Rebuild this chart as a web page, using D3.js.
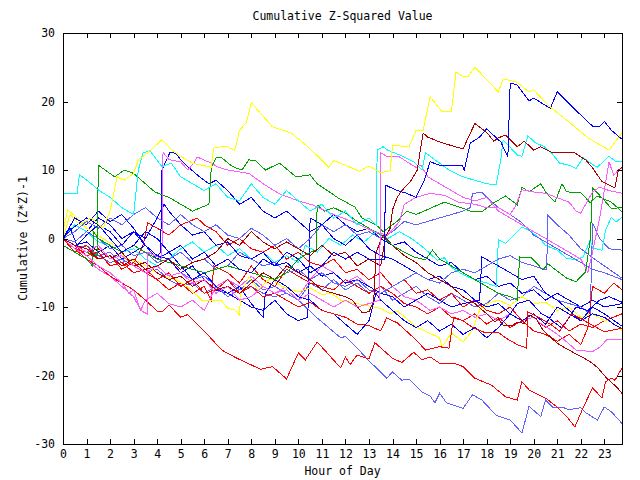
<!DOCTYPE html>
<html><head><meta charset="utf-8">
<script src="https://cdn.jsdelivr.net/npm/d3@7"></script>
<style>
body{margin:0;background:#fff}
svg{display:block}
text{font-family:"DejaVu Sans Mono",monospace;font-size:11.5px;fill:#000}
</style>
</head><body>
<svg id="c" width="640" height="480"></svg>
<script>
// ---- data: [hour, cumulative (z*z)-1] ----
const xTicks = d3.range(0, 24);
const yTicks = [-30, -20, -10, 0, 10, 20, 30];
const titleText = "Cumulative Z-Squared Value";
const xLabel = "Hour of Day";
const yLabel = "Cumulative (Z*Z)-1";

const yellow1 = [[0,0],[0.3,3.5],[0.7,2],[1.2,3],[1.7,1.5],[2,4],[2.3,9],[2.6,8.5],[3,9.5],[3.2,11.5],[3.6,12.5],[4.2,14.4],[4.6,13],[5,12],[5.5,11],[6.3,10.4],[6.4,13.2],[6.9,13.5],[7.3,12.9],[7.5,15.8],[7.8,17],[8,19.8],[8.9,16.3],[9.7,15.4],[10.4,13.4],[11.3,10.4],[11.5,11.4],[12.2,10.4],[12.6,9.8],[13,10.6],[13.5,9.6],[13.9,9.9],[14,13.6],[14.7,13.4],[15,15.8],[15.3,15.8],[15.6,20.7],[16.1,18.5],[16.5,18.5],[16.7,24.3],[17,23.6],[17.2,23.6],[17.5,25],[18.5,21.4],[18.7,23.3],[19.3,22.8],[19.8,21.4],[20,21.7],[20.6,19.5],[21.5,17],[22.3,14.7],[23.2,12.9],[23.75,15.4]];
const yellow2 = [[0,1],[0.2,4.2],[0.6,3],[1,1.5],[1.7,0],[2.3,-1.2],[2.7,-3],[3.3,-3.5],[3.8,-4.6],[4.3,-5.6],[4.8,-6],[5.3,-7.1],[5.9,-9],[6.7,-9],[7,-10.2],[7.3,-10.4],[7.5,-11.2],[7.55,-8],[7.9,-5.6],[8.3,-7.5],[8.8,-5.8],[9.3,-7],[10,-7.8],[10.5,-7.2],[11,-8.2],[11.4,-8],[11.8,-9],[12.5,-9.5],[13.5,-10.2],[13.9,-11],[14.2,-10.6],[14.6,-11.7],[15,-12.9],[15.5,-13.7],[16,-14.5],[16.1,-15.8],[16.5,-13.8],[17,-15.1],[17.4,-13.4],[17.7,-10.4],[18.1,-9.4],[18.5,-9],[19,-9.8],[19.5,-8.5],[20,-9.5],[20.5,-9.3],[21,-10.5],[21.5,-10],[22,-11.5],[22.5,-11],[22.9,-11.8],[23.3,-12.2],[23.75,-13.4]];
const blue1 = [[0,0],[0.4,1.5],[1,3],[1.5,2],[2,0],[2.5,-2],[3,-1],[3.5,1],[4,0],[4.5,-2],[5,-1],[5.5,-3],[6,-2],[6.5,-4],[7,-3],[7.5,-4.5],[8,-5],[8.5,-3],[9,-4],[9.5,-2],[10,-3],[10.5,-5],[11,-4],[11.5,-2],[12,-3],[12.5,-2],[13,-3],[13.65,-3.1],[13.7,7.8],[14.2,7],[14.6,6.6],[15,6],[15.35,8.5],[15.6,11.2],[16,10.7],[16.95,10.7],[17.05,10],[17.3,13.9],[17.7,14.8],[18,16],[18.6,14.1],[18.9,11.9],[19,22.7],[19.3,22.4],[19.8,20.1],[20,20.5],[20.7,19],[21,21.4],[21.7,19],[22.5,16.4],[22.8,16.4],[23,17.1],[23.3,15.8],[23.75,14.5]];
const blue2 = [[0,0],[0.3,1.5],[0.6,-1],[1,0.5],[1.5,2],[2,1],[2.5,-1],[3,1],[3.5,0],[4,3],[4.3,5],[4.5,4],[5,2],[5.5,0.5],[6,1],[6.5,-1],[7,-0.5],[7.5,-2.5],[8,-3],[8.5,-2],[9,-4],[9.5,-3.5],[10,-5],[10.5,-4],[11,-5.5],[11.5,-5],[12,-6.5],[12.5,-6],[13,-7],[13.5,-8],[14,-8.5],[14.5,-10],[15,-9],[15.5,-8],[16,-9],[16.5,-10],[17,-9.5],[17.7,-9],[17.8,-2.7],[18.5,-4],[19,-5],[19.5,-6],[20,-5.5],[20.5,-8],[21,-9],[21.5,-10.5],[22,-12],[22.5,-11],[23,-11.5],[23.4,-12.5],[23.75,-13.2]];
const blue3 = [[0,0],[0.5,3],[1,2],[1.5,4],[2,2.5],[2.5,3.5],[3,1.5],[3.5,-1],[4,-3],[4.5,-2],[5,-4],[5.5,-6],[6,-5],[6.5,-7],[7,-8],[7.5,-7],[8,-9.5],[8.5,-11.5],[8.6,-8],[9,-6],[9.5,-7],[10,-8.5],[10.5,-9],[11,-10.5],[11.5,-11],[12,-12.5],[12.5,-14],[13,-12],[13.3,-8],[13.5,-9],[14,-10.5],[14.5,-12],[15,-13],[15.5,-12],[16,-13.5],[16.5,-12.5],[17,-14],[17.5,-13],[18,-14.5],[18.5,-13],[19,-11],[19.3,-9.5],[19.8,-9],[20.3,-10.9],[20.6,-11.5],[21.2,-13.1],[21.8,-10],[22.3,-10.5],[22.8,-9],[23.2,-8.5],[23.75,-9.3]];
const blue4 = [[0,0],[0.5,-1],[1,-0.5],[1.5,-2],[2,-1],[2.5,-3],[3,-2],[3.5,-1],[4,-2.5],[4.15,-2],[4.2,10],[4.55,12.6],[4.8,12.4],[5,11.5],[5.3,10.5],[5.8,9],[6.2,8],[6.5,8.5],[7,7],[7.5,5],[8,6],[8.5,4],[9,3],[9.5,4],[10,2.5],[10.5,1],[11,2],[11.5,0],[12,-1],[12.5,0.5],[13,-1.5],[13.5,-2.5],[14,-3],[14.5,-4],[15,-5],[15.5,-6],[16,-5.5],[16.5,-7],[17,-7.5],[17.5,-9],[18,-10],[18.5,-9.5],[19,-11],[19.5,-12],[20,-11],[20.5,-12.5],[21,-10],[21.5,-11],[22,-12],[22.5,-10],[23,-11],[23.75,-12.8]];
const blue5 = [[0,0],[0.5,2],[1,1],[1.5,3],[2,2],[2.5,0],[3,1],[3.5,-1],[4,-2.5],[4.5,-3],[5,-5],[5.5,-4],[6,-6],[6.5,-7.5],[7,-8],[7.5,-9],[8,-10],[8.5,-10.5],[9,-9],[9.5,-11],[10,-12],[10.4,-11.5],[10.5,3],[11,2],[11.5,3.5],[12,2],[12.5,1],[13,1.5],[13.5,0],[14,-1],[14.5,-0.5],[15,-2],[15.5,-3],[16,-4],[16.5,-3.5],[17,-5],[17.5,-6],[18,-5.5],[18.5,-7],[19,-6.5],[19.5,-8],[20,-7.5],[20.5,-9],[21,-8],[21.5,-9],[22,-10],[22.5,-9],[23,-10],[23.75,-9.5]];
const slate1 = [[0,0],[0.5,-0.5],[1,1],[1.5,0],[2,-1.5],[2.5,-1],[3,-2.5],[3.5,-2],[4,-3.5],[4.5,-3],[5,-2],[5.5,-3.5],[6,-3],[6.5,-4.5],[7,-4],[7.5,-2],[8,-3],[8.5,-4],[9,-3.5],[9.5,-5],[10,-4.5],[10.5,-6],[11,-5],[11.5,-6.5],[12,-7],[12.5,-6],[13,-7.5],[13.5,-8],[14,-7],[14.5,-6],[15,-5],[15.5,-6],[16,-6.5],[16.5,-5],[17,-4.5],[17.5,-5],[18,-4],[18.5,-3],[19,-2.5],[19.5,-3.5],[20,-4],[20.55,-4.6],[20.6,3.4],[21,2],[21.5,0.5],[22,-1.5],[22.5,-2.8],[23,-4],[23.75,-5.8]];
const slate2 = [[0,0],[0.5,1],[1,2.5],[1.5,1.5],[2,3],[2.5,2],[3,3.5],[3.5,4.5],[4,3],[4.5,2],[5,3.5],[5.5,2],[6,1],[6.5,2],[7,0.5],[7.5,0],[8,1.5],[8.5,0.5],[9,-1],[9.5,0],[10,-1.5],[10.5,0],[11,2],[11.5,1],[12,2],[12.5,0.5],[13,1],[13.5,0],[14,1],[14.5,2.5],[15,2],[15.5,2.5],[16,3],[16.5,3.5],[17,4],[17.3,4.5],[17.4,6.6],[17.8,6.7],[18.1,5.7],[18.5,4.5],[19,3.5],[19.5,2.3],[20,0.5],[20.5,-0.5],[21,-1.5],[21.5,-2.5],[22,-3.5],[22.5,-4.5],[23,-5],[23.75,-6]];
const slate3 = [[0,0],[0.5,-1.5],[1,-1],[1.5,-2.5],[2,-3.5],[2.5,-3],[3,-4],[3.5,-5],[4,-4.5],[4.5,-6],[5,-7],[5.5,-6.5],[6,-8],[6.5,-7],[7,-8.5],[7.5,-7.5],[8,-6],[8.5,-7.5],[9,-7],[9.5,-8],[10,-9],[10.5,-6.5],[11,-7.5],[11.5,-6],[12,-7.5],[12.5,-6.5],[13,-8],[13.5,-7],[14,-9],[14.5,-8],[15,-7],[15.5,-8.5],[16,-9.5],[16.5,-8],[17,-9],[17.5,-10],[18,-9.5],[18.5,-8],[19,-9],[19.5,-8.5],[20,-7],[20.5,-8],[21,-9],[21.5,-9.5],[22,-10],[22.4,-11],[22.5,2.3],[22.8,0],[23.2,-1.5],[23.75,-1.7]];
const slate4 = [[0,0],[0.5,-1],[1,-1.5],[1.5,-2.5],[2,-2],[2.5,-3.5],[3,-3],[3.5,-4.5],[4,-4],[4.5,-5.5],[5,-5],[5.5,-6],[6,-5.5],[6.5,-7],[7,-6],[7.5,-7.5],[8,-7],[8.5,-8],[9,-8.5],[9.5,-8],[10,-9],[10.8,-11.6],[11.8,-14.5],[12,-14.3],[12.5,-16],[12.9,-17.5],[13.75,-20.4],[14,-19.5],[14.4,-20.7],[14.7,-20.5],[15.25,-22.4],[15.6,-23],[15.8,-24],[16,-22.6],[16.3,-24],[17,-24.8],[17.4,-22.8],[17.8,-23.6],[18.4,-25.8],[19,-26.5],[19.5,-28.4],[19.8,-24.5],[20.3,-26],[20.5,-23.6],[20.8,-24.6],[21.2,-24.6],[21.5,-25],[22,-24.7],[22.2,-25.4],[22.7,-26.5],[23,-24.6],[23.3,-25.3],[23.75,-27]];
const red1 = [[0,0],[0.5,-1.5],[1,-3],[1.5,-4],[2,-5.5],[2.5,-6.5],[3,-7.5],[3.6,-9.3],[4,-10.6],[4.25,-10.6],[4.5,-9.7],[5,-11.5],[5.3,-11.1],[6,-13.5],[6.75,-16.3],[7.4,-17.5],[8.15,-18.7],[8.4,-19.1],[8.9,-18.7],[9.5,-20.5],[10,-16.7],[10.3,-17.7],[10.8,-15.1],[11.8,-18.9],[12,-17.3],[12.2,-18.4],[12.5,-17],[13,-17.6],[13.25,-15.2],[14,-17.5],[14.4,-18.1],[14.9,-16.6],[15.25,-17.7],[15.6,-17.3],[16,-18.2],[16.6,-18.2],[17,-18.7],[17.5,-20.4],[18.2,-21.4],[18.8,-23.1],[19.3,-23.6],[19.5,-20.9],[19.8,-22.1],[20.5,-23.3],[21,-24.6],[21.4,-26],[21.75,-27.5],[22.1,-24.7],[22.5,-21.8],[22.9,-23.3],[23.05,-20.9],[23.3,-20.4],[23.45,-20.7],[23.75,-18.9]];
const red2 = [[0,0],[0.5,-2],[1,-1],[1.5,-3],[2,-2.5],[2.5,-4.5],[3,-3.5],[3.5,-5],[4,-6],[4.5,-5],[5,-7],[5.5,-6],[6,-8],[6.5,-7.5],[7,-6],[7.5,-8],[8,-7],[8.5,-8.5],[9,-8],[9.5,-9],[10,-10],[10.5,-9.3],[11,-10.5],[11.5,-11],[12,-11.5],[12.5,-12.5],[13,-12.7],[13.5,-13.5],[13.75,-11.6],[14.2,-12.3],[15,-14.8],[15.4,-16.3],[16,-15.8],[16.4,-16],[16.6,-11.5],[17,-12],[17.4,-13],[17.9,-13.7],[18.5,-13.7],[18.8,-14.5],[19.3,-15.5],[19.7,-16],[19.75,-10.7],[20.2,-11.5],[20.7,-12.5],[21.1,-13.5],[21.6,-11],[22,-11.7],[22.4,-12.5],[23,-13.6],[23.75,-13.1]];
const red3 = [[0,0],[0.5,-1],[1,-2.5],[1.5,-2],[2,-4],[2.5,-3.5],[3,-5],[3.5,-4.5],[4,-6],[4.5,-7.5],[5,-6.5],[5.5,-8],[6,-7],[6.3,-9],[6.4,-4],[7,-5],[7.5,-6.5],[8,-4],[8.5,-6],[9,-7],[9.5,-4.5],[10,-5.5],[10.5,-6.5],[11,-7],[11.5,-7.5],[12,-6],[12.5,-7],[13,-8],[13.5,-7],[14,-8],[14.5,-9.5],[15,-10],[15.5,-11],[16,-10],[16.5,-11.5],[17,-12],[17.5,-11],[18,-12.5],[18.5,-11.5],[19,-13],[19.5,-12],[20,-13.5],[20.5,-14],[21,-15],[21.5,-14],[22,-15.5],[22.3,-13],[22.5,-7],[23,-8],[23.4,-6.5],[23.75,-7.5]];
const red4 = [[0,0],[0.5,-1.5],[1,-2],[1.5,-3],[2,-2.5],[2.5,-4],[3,-3.5],[3.4,-1],[3.6,2.3],[4,1.5],[4.5,0.5],[5,2],[5.3,2.4],[5.7,3],[6,2],[6.5,1],[7,-1],[7.5,0],[8,-1.5],[8.5,-2],[9,-1],[9.5,-3],[10,-2],[10.5,-3.5],[11,-4],[11.5,-3],[12,-5],[12.5,-4.5],[13,-6],[13.5,-5],[14,-7],[14.5,-6],[15,-8],[15.5,-7.5],[16,-9],[16.5,-8],[17,-10],[17.5,-9],[18,-10.5],[18.5,-11],[19,-10],[19.5,-12],[20,-11.5],[20.5,-13],[21,-12],[21.5,-13.5],[22,-12.5],[22.5,-13],[23,-12],[23.75,-11]];
const darkred1 = [[0,0],[0.5,-1],[1,-1.5],[1.5,-3],[2,-2.5],[2.5,-4],[3,-3],[3.5,-4.5],[4,-4],[4.5,-3],[5,-4.5],[5.5,-3.5],[6,-3],[6.5,-2],[7,0],[7.5,-1],[8,1],[8.5,-0.5],[9,-1.5],[9.5,-0.5],[10,-1.5],[10.5,-2.5],[11,-1],[11.5,-2.5],[12,-2],[12.5,-4],[13,-3],[13.5,-4],[13.7,0.2],[13.9,1.5],[14,4.2],[14.2,6],[14.4,7],[14.8,8.5],[15.05,10],[15.3,15.4],[15.5,14.8],[16,14.1],[16.65,13.4],[17,13.1],[17.5,16.8],[18,15.5],[18.3,14.2],[18.5,14.7],[18.8,15.1],[19.3,13.4],[19.6,14.2],[20,12.9],[20.3,13.4],[20.8,12.5],[21.7,12.6],[22,11.9],[22.2,11.5],[22.5,10.3],[22.9,8.3],[23.45,7.4],[23.6,10],[23.75,10.4]];
const darkred2 = [[0,0],[0.5,-1],[1,-2],[1.5,-1.5],[2,-3],[2.5,-2],[3,-4],[3.5,-3.5],[4,-5],[4.5,-6],[5,-5.5],[5.5,-7],[6,-6],[6.5,-7.5],[7,-7],[7.5,-8],[8,-6.5],[8.5,-5],[9,-6],[9.5,-4],[10,-5],[10.5,-6],[11,-7.5],[11.5,-8],[12,-8.5],[12.3,-9],[12.7,-10.8],[13,-10.7],[13.2,-9.2],[13.3,-2],[13.6,0.5],[14,-1],[14.5,-2.5],[15,-3.5],[15.5,-5],[16,-6],[16.5,-7],[17,-8.5],[17.5,-9.5],[18,-11],[18.35,-12.2],[18.5,-11.7],[18.7,-12.7],[19.1,-12.7],[19.3,-12.2],[19.6,-12.4],[19.8,-11.2],[20.1,-11.7],[20.4,-13.4],[21,-15.3],[21.5,-16.3],[22.1,-17.4],[22.4,-18],[22.7,-18.8],[23.1,-20.4],[23.5,-21.6],[23.75,-22.6]];
const green1 = [[0,0],[0.5,-1],[1,-2],[1.45,-2.5],[1.5,10.7],[2.2,9],[2.6,10],[3,9.5],[3.9,6.8],[4.5,6],[5,5],[5.5,4],[6.2,5],[6.3,10.3],[6.5,11.8],[6.7,11.9],[7.2,10.5],[7.6,10],[7.9,11.5],[8.2,11.3],[8.6,10],[9.2,11],[9.9,9],[10.5,9.3],[10.8,8],[11.7,5.9],[12.4,4.6],[12.7,3],[13.3,2],[13.6,1],[14.2,2.5],[14.6,4],[15,3.5],[15.6,4.4],[16.2,5.3],[17,4.4],[17.3,4],[17.8,3.9],[18.3,5.2],[18.8,6.2],[19.3,4.9],[19.5,7.5],[19.8,6.8],[20.3,8],[20.5,6.8],[20.9,5.3],[21.2,8],[21.4,6.8],[22,6.7],[22.4,5.2],[22.7,6.2],[23.3,5.3],[23.75,3.9]];
const green2 = [[0,-1],[0.5,-2],[1,-3],[1.25,-4],[1.3,1],[1.5,0],[2,-1],[2.5,-2],[3,-1],[3.5,-2],[4,-3],[5,-4],[6,-5],[7,-4],[8,-5],[9,-6],[9.5,-5],[10,-3],[10.5,-2],[10.75,-1.7],[10.8,4.9],[11.1,4],[11.5,4.5],[12.1,3.5],[12.5,2.5],[13,1.5],[13.5,0.5],[14,-1],[14.5,-2],[14.9,-2.7],[15.4,-3.1],[15.7,-1.7],[16,-3],[16.5,-4],[17,-5],[17.5,-6],[18,-7],[18.5,-8],[19,-8.5],[19.3,-9],[19.4,-2.7],[19.9,-2.8],[20.4,-4.6],[20.6,-3.7],[21.4,-5.8],[21.8,-6.3],[22.2,-4.9],[22.4,-0.2],[22.5,7.4],[22.8,6.3],[23.3,4.4],[23.75,4.5]];
const cyan1 = [[0,6.6],[0.6,6.6],[0.7,9.3],[1.2,8],[1.5,7.1],[2,6],[2.5,4.5],[3,3.5],[3.2,10],[3.4,12.5],[3.7,12.8],[4.2,10.5],[4.6,11],[5,9],[5.5,8],[6,7],[6.5,8],[7,6],[7.5,5.5],[8,8],[8.5,6],[9,5],[9.5,7],[10,5.5],[10.5,4],[11,5],[11.5,3],[12,4],[12.5,2],[13,3],[13.3,2],[13.35,12.9],[13.6,13.4],[13.8,12.9],[14.3,12.2],[14.9,11.2],[15.25,10],[15.4,12.5],[15.8,11.5],[16.4,10],[17,9],[17.5,8.5],[18,8],[18.4,7.8],[18.6,11.5],[18.7,14.4],[19.3,12.2],[19.5,12],[19.75,15],[20.1,13.9],[20.4,13.5],[20.75,12.5],[21.1,11],[21.5,10.7],[21.8,10.2],[22.1,11.8],[22.5,10.8],[22.7,10.4],[23.2,12],[23.5,11.2],[23.75,11.2]];
const cyan2 = [[0,0],[0.5,2],[1,1],[1.5,-0.5],[2,-1],[2.5,-2],[3,-1.5],[3.5,-3],[4,-4],[4.5,-3],[5,-1.5],[5.5,-0.5],[6,-2],[6.5,-1],[7,-2.5],[7.5,-1.5],[8,-3],[8.5,-2],[9,-3.5],[9.5,-2.5],[10,-3.5],[10.3,-1],[10.8,-2],[11.3,0],[11.8,-1],[12.3,0.5],[12.8,-0.5],[13.3,1],[13.8,0],[14.3,1],[14.8,0],[15.2,-1],[15.6,-2.2],[15.9,-3.2],[16.2,-2.8],[16.5,-4.2],[17,-5.3],[17.5,-6],[18,-6.5],[18.4,-7],[18.5,-0.2],[18.8,-0.7],[19.3,1],[19.5,1.7],[19.8,1.2],[20.2,0.2],[20.5,-1],[21,-1.7],[21.4,-2.9],[21.8,-3.1],[22.1,-2.7],[22.4,-0.2],[22.5,-1.4],[22.9,-1.7],[23.05,1.2],[23.3,3.1],[23.5,2.4],[23.75,3.1]];
const magenta1 = [[0,0],[0.5,-1.5],[1,-2.5],[1.5,-4],[2,-5],[2.5,-6.5],[2.8,-8],[3,-7.5],[3.3,-10.5],[3.57,-11],[3.6,-2],[3.9,-2.5],[4.2,-3],[4.25,12.6],[4.5,11.5],[5,11.2],[5.3,10],[5.6,11.2],[5.7,11.9],[6.3,11],[6.6,10.4],[7,10],[7.9,9.5],[8.5,8],[9.2,6.5],[10,5.5],[10.6,4.9],[11.5,3.5],[12.5,2.2],[13.2,1],[13.8,0.5],[14.3,2.5],[14.5,5],[15,6],[15.6,6.6],[16.2,6.3],[16.8,5.3],[17.5,5],[18,4.5],[18.5,4.5],[19,3.5],[19.2,4.6],[19.5,7.1],[20,6.8],[20.5,6.6],[21.5,5.3],[21.8,4],[22,3.7],[22.5,6.8],[22.8,7.5],[23.2,7],[23.75,6.6]];
const magenta2 = [[0,0],[0.5,-1.5],[1,-3],[1.5,-4.5],[2,-5.5],[2.5,-7],[3,-8.5],[3.3,-10.5],[3.5,-9],[4,-8],[4.5,-9.5],[5,-10],[5.5,-9],[6,-10.5],[6.5,-7],[7,-6],[7.5,-7],[8,-5.5],[8.5,-7],[9,-8],[9.5,-7],[10,-8.5],[10.5,-6],[11,-4],[11.5,-5],[12,-6.5],[12.5,-5.5],[13,-7],[13.5,-8],[14,-7],[14.5,-8.5],[15,-9],[15.6,-10.5],[16,-10],[16.5,-11],[17,-10.5],[17.5,-11.5],[18,-11],[18.5,-12],[19,-11],[19.5,-12],[20,-11.5],[20.3,-12.4],[20.8,-13.5],[21.2,-14.5],[21.8,-16.3],[22.5,-16.5],[22.8,-15.9],[23.1,-14.8],[23.75,-14.7]];
const magenta3 = [[0,0],[0.5,-1],[1,-2],[1.5,-1],[2,-3],[2.5,-2.5],[3,-4],[3.5,-5],[4,-4],[4.5,-5.5],[5,-5],[5.5,-6.5],[6,-6],[6.5,-8],[7,-7],[7.5,-9],[8,-8.5],[8.5,-7],[9,-8],[9.5,-7.5],[10,-9],[10.5,-8],[11,-9],[11.5,-10],[12,-9],[12.5,-10],[13,-9.5],[13.45,-9],[13.5,12.5],[13.8,11.9],[14.3,11.9],[14.7,11],[15,10.4],[15.2,10.7],[15.5,9],[16,8],[16.5,7],[17,6],[17.5,5.5],[18,6],[18.5,4],[19,3],[19.5,2],[20,1],[20.5,0],[21,-1],[21.5,-2],[22,-3],[22.3,-5],[22.5,-2],[22.8,3],[23.2,11.2],[23.4,9.2],[23.6,10],[23.75,10.3]];

const seriesNames = ["blue5","slate3","slate4","red3","red4","cyan2","magenta2","yellow2","blue3","blue2","blue4","slate1","slate2","red2","red1","darkred2","green2","green1","magenta3","magenta1","cyan1","darkred1","blue1","yellow1"];
const seriesData = {yellow1,yellow2,blue1,blue2,blue3,blue4,blue5,slate1,slate2,slate3,slate4,red1,red2,red3,red4,darkred1,darkred2,green1,green2,cyan1,cyan2,magenta1,magenta2,magenta3};
const palette = {yellow:"#ffff00",blue:"#0000ff",slate:"#6060ff",red:"#ff0000",darkred:"#a80000",green:"#00a000",cyan:"#00ffff",magenta:"#ff5cff"};

// ---- drawing ----
const W = 640, H = 480;
const M = {left:63, right:622, top:33, bottom:444};
const svg = d3.select("#c");
svg.append("rect").attr("width",W).attr("height",H).attr("fill","#fff");

const x = d3.scaleLinear().domain([0,23.75]).range([M.left, M.right]);
const y = d3.scaleLinear().domain([-30,30]).range([M.bottom, M.top]);

svg.append("clipPath").attr("id","clip").append("rect")
  .attr("x",M.left).attr("y",M.top).attr("width",M.right-M.left).attr("height",M.bottom-M.top);

const line = d3.line().x(d=>x(d[0])).y(d=>y(d[1]));
const g = svg.append("g").attr("clip-path","url(#clip)");
seriesNames.forEach(name=>{
  const color = palette[name.replace(/\d+$/,"")];
  g.append("path").datum(seriesData[name])
    .attr("d", line)
    .attr("fill","none").attr("stroke",color).attr("stroke-width",1)
    .attr("shape-rendering","crispEdges");
});

// axes with inward ticks
const fmt = d=>String(d);
const axB = svg.append("g").attr("transform",`translate(0,${M.bottom})`)
  .call(d3.axisBottom(x).tickValues(xTicks).tickFormat(fmt).tickSize(-5).tickSizeOuter(0).tickPadding(6));
const axT = svg.append("g").attr("transform",`translate(0,${M.top})`)
  .call(d3.axisTop(x).tickValues(xTicks).tickFormat("").tickSize(-5).tickSizeOuter(0));
const axL = svg.append("g").attr("transform",`translate(${M.left},0)`)
  .call(d3.axisLeft(y).tickValues(yTicks).tickFormat(fmt).tickSize(-5).tickSizeOuter(0).tickPadding(8));
const axR = svg.append("g").attr("transform",`translate(${M.right},0)`)
  .call(d3.axisRight(y).tickValues(yTicks).tickFormat("").tickSize(-5).tickSizeOuter(0));
[axB,axT,axL,axR].forEach(a=>{
  a.select(".domain").remove();
  a.selectAll("line").attr("stroke","#000").attr("shape-rendering","crispEdges");
  a.selectAll("text").attr("font-family",null).attr("font-size",null).attr("fill","#000");
});

svg.append("rect").attr("x",M.left+0.5).attr("y",M.top+0.5)
  .attr("width",M.right-M.left).attr("height",M.bottom-M.top)
  .attr("fill","none").attr("stroke","#000").attr("stroke-width",1).attr("shape-rendering","crispEdges");

svg.append("text").attr("x",(M.left+M.right)/2).attr("y",20).attr("text-anchor","middle").text(titleText);
svg.append("text").attr("x",(M.left+M.right)/2).attr("y",475).attr("text-anchor","middle").text(xLabel);
svg.append("text").attr("transform",`translate(27,${(M.top+M.bottom)/2}) rotate(-90)`).attr("text-anchor","middle").text(yLabel);
</script>
</body></html>
